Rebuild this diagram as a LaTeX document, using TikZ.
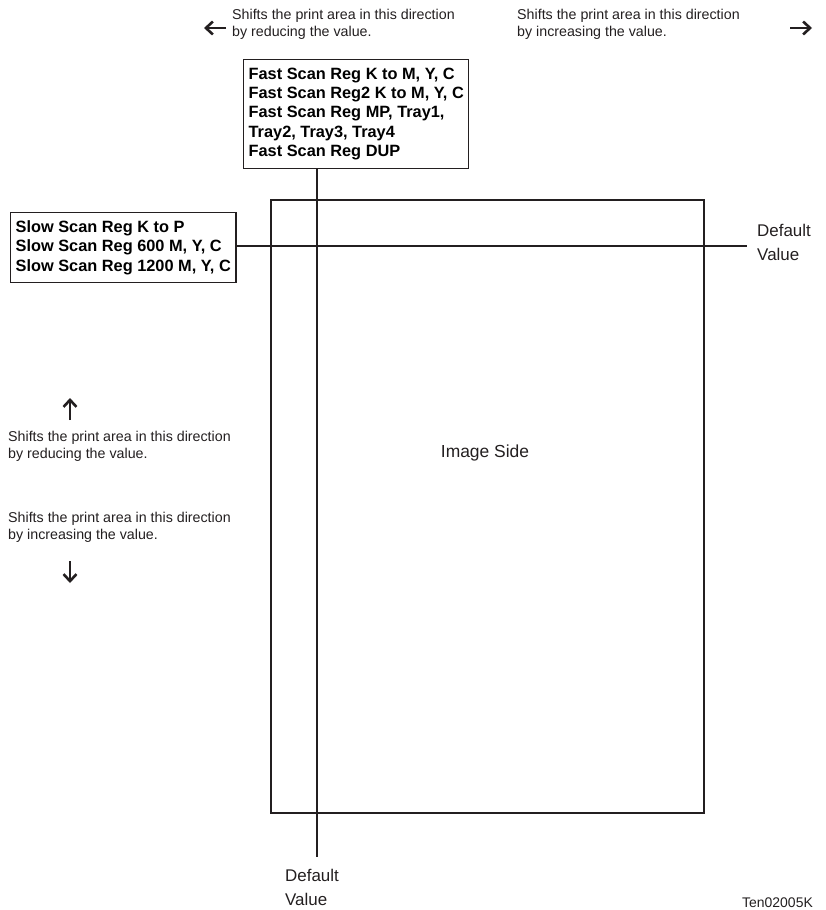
\documentclass[tikz,border=0pt]{standalone}
\usepackage{fontspec}
\setmainfont{Liberation Sans}
\usetikzlibrary{arrows.meta,positioning}
\definecolor{InkGray}{HTML}{231F20}

\begin{document}
\begin{tikzpicture}[
	x=1bp, y=-1bp,
	regbox/.style={draw=InkGray, line width=1.3bp, align=left, inner xsep=5bp, inner ysep=8bp, font=\fontsize{16.4}{19.5}\selectfont\bfseries},
	note/.style={align=left, inner sep=0pt, text=InkGray, font=\fontsize{14.3}{17.5}\selectfont},
	bigtext/.style={align=left, inner sep=0pt, text=InkGray, font=\fontsize{17}{24}\selectfont},
	guide/.style={draw=InkGray, line width=1.3bp},
	shiftarrow/.style={-{Straight Barb[length=7bp,width=13bp,line width=2.6bp]}, line width=2.6bp, InkGray}
]
\useasboundingbox (0,0) rectangle (826,910);

% image area
\node[draw=InkGray, line width=2.2bp, minimum width=433bp, minimum height=613bp, anchor=north west, inner sep=0pt] (page) at (270,199) {};
\node[bigtext, font=\fontsize{17.5}{24}\selectfont, anchor=center] (side) at (485,453) {Image Side};

% register boxes
\node[regbox, anchor=north west] (fast) at (243,59) {Fast Scan Reg K to M, Y, C\\Fast Scan Reg2 K to M, Y, C\\Fast Scan Reg MP, Tray1,\\Tray2, Tray3, Tray4\\Fast Scan Reg DUP};
\node[regbox, anchor=north west] (slow) at (10,212) {Slow Scan Reg K to P\\Slow Scan Reg 600 M, Y, C\\Slow Scan Reg 1200 M, Y, C};

% default value lines
\coordinate (fastend) at (317,857);
\coordinate (slowend) at (747,246);
\draw[guide] (fast.south -| fastend) -- (fastend);
\draw[guide] (slow.east |- slowend) -- (slowend);
\node[bigtext, anchor=north west] (defright) at (757,224) {Default\\Value};
\node[bigtext, anchor=north west] (defbottom) at (285,869) {Default\\Value};

% shift directions
\node[note, anchor=north west] (lessx) at (232,9) {Shifts the print area in this direction\\by reducing the value.};
\node[note, anchor=north west] (morex) at (517,9) {Shifts the print area in this direction\\by increasing the value.};
\node[note, anchor=north west] (lessy) at (8,431) {Shifts the print area in this direction\\by reducing the value.};
\node[note, anchor=north west] (morey) at (8,512) {Shifts the print area in this direction\\by increasing the value.};
\draw[shiftarrow] (226,28) -- (204,28);
\draw[shiftarrow] (790,28) -- (812,28);
\draw[shiftarrow] (70,420) -- (70,398);
\draw[shiftarrow] (70,561) -- (70,583);

\node[note, anchor=south east, font=\fontsize{14}{16}\selectfont] (code) at (813,908) {Ten02005K};
\end{tikzpicture}
\end{document}
